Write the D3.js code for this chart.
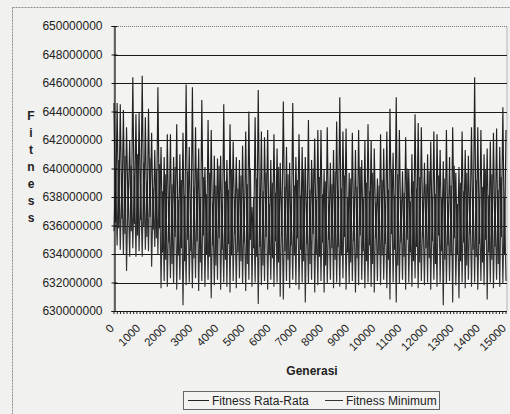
<!DOCTYPE html>
<html><head><meta charset="utf-8">
<script src="https://cdn.jsdelivr.net/npm/d3@7"></script>
<style>
html,body{margin:0;padding:0;background:#f1f1ef;}
svg{display:block;font-family:Arial,"Liberation Sans",sans-serif;}
</style></head><body>
<svg id="c" width="510" height="414"></svg>
<script>
// ---- data (values in millions) ----
const yTickValues = [630,632,634,636,638,640,642,644,646,648,650];
const yTickLabels = ["630000000","632000000","634000000","636000000","638000000","640000000","642000000","644000000","646000000","648000000","650000000"];
const xTickValues = [0,1000,2000,3000,4000,5000,6000,7000,8000,9000,10000,11000,12000,13000,14000,15000];
const xTickLabels = ["0","1000","2000","3000","4000","5000","6000","7000","8000","9000","10000","11000","12000","13000","14000","15000"];
const seriesNames = ["Fitness Rata-Rata","Fitness Minimum"];
const xTitle = "Generasi";
const yTitle = "Fitness";
const lastGen = 15000;

// Fitness Rata-Rata: peaks and troughs, read left to right
const rataPuncak = [644.6,644.6,644.5,644.1,642.9,642.0,646.4,643.8,643.9,646.5,
 643.6,644.2,642.5,641.3,645.7,641.5,640.8,642.4,642.4,640.8,
 643.1,641.0,642.5,645.9,641.5,645.7,642.9,641.4,644.8,640.1,
 643.4,642.7,640.9,640.7,640.9,644.5,640.6,643.1,641.9,640.8,
 640.6,641.6,642.6,644.0,637.3,643.6,645.5,642.6,642.2,642.7,
 640.6,642.4,641.4,640.4,644.7,641.5,640.4,644.6,640.8,642.4,
 641.5,640.8,643.4,640.6,642.1,642.7,642.7,639.9,642.9,640.4,
 641.3,643.3,645.0,642.6,642.8,639.7,642.5,641.3,642.7,640.6,
 642.0,643.1,642.0,641.4,639.3,642.4,641.4,642.6,644.2,641.1,
 645.0,642.7,639.8,642.2,639.9,641.0,643.8,643.2,642.9,640.4,
 641.0,641.9,642.6,642.4,641.3,640.5,642.7,640.8,642.9,639.7,
 640.1,642.6,641.3,640.9,642.9,646.4,642.9,642.7,641.0,641.4,
 641.9,642.5,642.8,641.5,644.3,642.7];
const rataLembah = [636.2,635.8,636.5,635.4,636.9,635.6,636.1,635.3,636.4,635.9,
 635.2,636.6,635.7,635.1,635.8,
 634.1,633.6,634.8,633.3,635.2,633.9,634.4,633.5,635.0,634.2,
 633.7,634.9,633.4,635.3,634.0,633.8,634.6,633.2,635.1,634.3,
 633.6,634.7,633.9,635.4,634.1,633.5,634.8,633.3,635.0,634.4,
 633.8,634.5,633.2,635.2,634.0,633.7,634.9,633.4,635.3,634.2,
 633.6,634.6,633.9,635.1,634.3,633.5,634.7,633.3,635.4,634.0,
 633.8,634.8,633.2,635.0,634.4,633.6,634.5,633.9,635.2,634.1,
 633.4,634.9,633.7,635.3,634.2,633.5,634.6,633.3,635.1,634.0,
 633.9,634.7,633.6,635.4,634.3,633.2,634.8,633.8,635.0,634.1,
 633.5,634.5,633.4,635.2,634.4,633.7,634.9,633.3,635.3,634.2,
 633.6,634.6,633.9,635.1,634.0,633.5,634.8,633.2,635.4,634.3,
 633.8,634.7,633.4,635.0,634.1,633.6,634.5,633.3,635.2,634.0];

// Fitness Minimum: troughs and peaks, read left to right
const minLembah = [635.6,634.6,634.3,634.0,632.8,633.8,634.4,633.8,634.2,633.8,
 634.3,634.2,633.1,634.5,634.0,
 631.6,632.1,631.7,632.3,631.9,631.5,632.2,630.4,631.8,632.0,
 631.6,632.3,631.4,632.1,631.7,632.2,630.9,631.8,632.2,631.5,
 632.0,631.7,631.3,632.1,631.6,632.3,631.9,631.4,632.2,631.7,
 632.0,630.5,631.8,632.1,631.5,632.2,631.7,632.0,631.0,630.8,
 632.1,631.6,632.2,631.8,631.5,632.0,630.6,631.9,632.2,631.3,
 631.8,632.1,631.3,631.9,632.2,631.6,632.0,631.7,632.3,631.5,
 631.9,632.1,631.3,631.8,632.2,631.6,632.0,631.7,631.3,632.1,
 631.8,632.2,631.6,630.8,632.0,630.6,631.9,632.2,631.5,632.0,
 631.7,632.3,631.6,632.1,631.8,632.0,631.5,632.2,631.7,632.0,
 630.4,631.9,632.1,630.6,631.8,630.9,632.0,631.6,632.2,631.7,
 632.0,631.5,632.1,631.8,630.8,632.0,631.6,632.2,631.7,631.9,632.1];
const minPuncak = [639.8,640.6,639.2,640.9,638.7,640.2,639.5,641.0,638.9,640.4,
 639.1,640.7,638.6,639.9,640.3,
 638.4,639.6,637.5,638.9,640.1,637.8,639.2,638.1,639.8,637.4,
 638.7,640.0,637.9,639.4,638.2,639.7,637.6,638.8,640.2,637.3,
 639.1,638.5,639.9,637.7,638.6,639.5,637.2,638.9,640.0,638.0,
 639.3,637.8,638.4,639.7,637.5,639.0,638.3,640.1,637.9,638.7,
 639.6,637.4,638.8,639.2,638.1,639.9,637.6,638.5,640.0,637.8,
 639.4,638.2,639.1,637.3,638.9,639.8,637.7,638.6,639.5,638.0,
 639.3,637.5,638.7,640.1,637.9,639.0,638.4,639.7,637.6,638.8,
 639.2,637.4,638.5,639.9,638.1,639.6,637.8,638.3,640.0,637.7,
 639.1,638.6,639.4,637.3,638.9,639.8,637.9,638.2,639.5,638.0,
 639.3,637.6,638.8,640.2,637.5,639.0,638.4,639.7,637.8,638.6,
 639.2,637.4,638.7,639.9,638.1,639.6,637.7,638.5,639.4,638.0];

// ---- build series (interleave peaks / troughs) ----
function interleave(a, b){
  const out = [];
  const n = Math.max(a.length, b.length);
  for (let i = 0; i < n; i++){ if (i < a.length) out.push(a[i]); if (i < b.length) out.push(b[i]); }
  return out;
}
const rataRata = interleave(rataPuncak, rataLembah);
const minimum = interleave(minLembah, minPuncak);

const svg = d3.select("#c");
const L = 114, R = 507, T = 26, B = 311;
const x = d3.scaleLinear().domain([0, lastGen]).range([L, 506]);
const y = d3.scaleLinear().domain([630, 650]).range([B, T]);

// chart area border
svg.append("rect").attr("x",12.5).attr("y",7.5).attr("width",520).attr("height",420)
  .attr("fill","#f1f1ef").attr("stroke","#8a8a8a").attr("stroke-dasharray","2,1");

// plot area border
svg.append("rect").attr("x",L).attr("y",T+0.5).attr("width",R-L).attr("height",B-T)
  .attr("fill","#f3f3f1").attr("stroke","#777").attr("stroke-dasharray","1,1");

// gridlines
svg.append("g").selectAll("line").data(yTickValues.filter(v => v > 630 && v < 650)).join("line")
  .attr("x1",L).attr("x2",R).attr("y1",d=>Math.round(y(d))+0.5).attr("y2",d=>Math.round(y(d))+0.5)
  .attr("stroke","#1a1a1a").attr("stroke-width",1);

// series
function lineFor(arr){
  const step = lastGen/(arr.length-1);
  return d3.line().x((d,i)=>x(i*step)).y(d=>y(d))(arr);
}
svg.append("path").attr("d",lineFor(minimum)).attr("fill","none")
  .attr("stroke","#333").attr("stroke-width",1.15);
svg.append("path").attr("d",lineFor(rataRata)).attr("fill","none")
  .attr("stroke","#222").attr("stroke-width",1.15);

// y axis
const yAxis = d3.axisLeft(y).tickValues(yTickValues)
  .tickFormat((d,i)=>yTickLabels[i]).tickSize(3).tickPadding(9);
const gy = svg.append("g").attr("transform",`translate(${L+0.5},0)`).call(yAxis);
gy.select(".domain").attr("stroke","#111").attr("stroke-width",1.2);
gy.selectAll(".tick line").attr("x1",-3).attr("x2",3).attr("stroke","#111");
gy.selectAll(".tick text").attr("font-size","12px").attr("fill","#222")
  .attr("font-family","Arial,'Liberation Sans',sans-serif");

// x axis baseline with dense tick marks
const gx = svg.append("g");
gx.append("line").attr("x1",L).attr("x2",R).attr("y1",B+0.5).attr("y2",B+0.5)
  .attr("stroke","#111").attr("stroke-width",1.2);
const minorTicks = d3.range(0, lastGen+1, 125);
gx.selectAll("line.minor").data(minorTicks).join("line").attr("class","minor")
  .attr("x1",d=>x(d)).attr("x2",d=>x(d)).attr("y1",B).attr("y2",B+3)
  .attr("stroke","#222").attr("stroke-width",1);
gx.selectAll("text").data(xTickValues).join("text")
  .attr("transform",d=>`translate(${x(d)-2},${326}) rotate(-45)`)
  .attr("text-anchor","end").attr("dy","0.35em")
  .attr("font-size","11.5px").attr("fill","#222")
  .text((d,i)=>xTickLabels[i]);

// axis titles
svg.append("text").attr("x",312).attr("y",375).attr("text-anchor","middle")
  .attr("font-size","12px").attr("font-weight","bold").attr("fill","#222").text(xTitle);
svg.append("g").selectAll("text").data(yTitle.split("")).join("text")
  .attr("x",31).attr("y",(d,i)=>120+i*17).attr("text-anchor","middle")
  .attr("font-size","12px").attr("font-weight","bold").attr("fill","#222").text(d=>d);

// legend
const lg = svg.append("g");
lg.append("rect").attr("x",183.5).attr("y",391.5).attr("width",256).attr("height",18)
  .attr("fill","#f3f3f1").attr("stroke","#666");
const legendItems = [{x0:188,x1:209,tx:212},{x0:325,x1:343,tx:346}];
legendItems.forEach((it,i)=>{
  lg.append("line").attr("x1",it.x0).attr("x2",it.x1).attr("y1",400.5).attr("y2",400.5)
    .attr("stroke",i===0?"#222":"#333").attr("stroke-width",1);
  lg.append("text").attr("x",it.tx).attr("y",404.5).attr("font-size","12px")
    .attr("fill","#222").text(seriesNames[i]);
});
</script>
</body></html>
